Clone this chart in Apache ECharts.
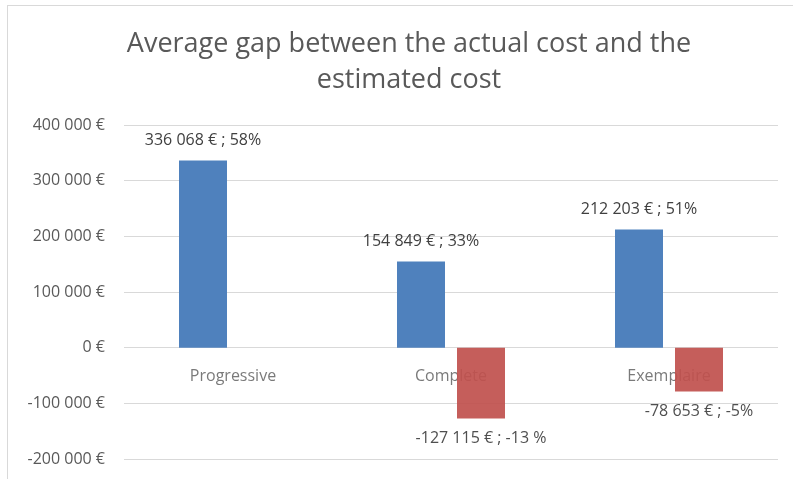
<!DOCTYPE html>
<html>
<head>
<meta charset="utf-8">
<script src="https://cdn.jsdelivr.net/npm/echarts@6/dist/echarts.min.js"></script>
<style>html,body{margin:0;padding:0;background:#fff}#c{width:793px;height:479px}</style>
</head>
<body>
<div id="c"></div>
<script>
const titleText = 'Average gap between the actual cost and the\nestimated cost';
const categories = ['Progressive', 'Complete', 'Exemplaire'];
const overValues = [336068, 154849, 212203];
const underValues = [null, -127115, -78653];
const overPct = ['58%', '33%', '51%'];
const underPct = ['', '-13 %', '-5%'];
const yTicks = { min: -200000, max: 400000, interval: 100000 };

function fmt(v) {
  const s = Math.abs(v).toString().replace(/\B(?=(\d{3})+(?!\d))/g, ' ');
  return (v < 0 ? '-' : '') + s + ' €';
}

const font = '"Open Sans", "Noto Sans", sans-serif';
const fs = 16;
const chart = echarts.init(document.getElementById('c'));
chart.setOption({
  animation: false,
  backgroundColor: '#fff',
  title: {
    text: titleText,
    left: 404,
    textAlign: 'center',
    top: 21,
    textStyle: { fontFamily: font, fontSize: 27, fontWeight: 'normal', color: '#595959', lineHeight: 36 }
  },
  graphic: [
    { type: 'line', shape: { x1: 7, y1: 5.5, x2: 793, y2: 5.5 }, style: { stroke: '#d9d9d9', lineWidth: 1 } },
    { type: 'line', shape: { x1: 7.5, y1: 5, x2: 7.5, y2: 479 }, style: { stroke: '#d9d9d9', lineWidth: 1 } }
  ],
  grid: { left: 124, right: 15, top: 125, bottom: 20, containLabel: false, outerBoundsMode: 'none' },
  xAxis: {
    type: 'category',
    data: categories,
    axisLine: { show: false },
    axisTick: { show: false },
    axisLabel: { show: false }
  },
  yAxis: {
    type: 'value',
    min: yTicks.min, max: yTicks.max, interval: yTicks.interval,
    axisLine: { show: false },
    axisTick: { show: false },
    splitLine: { lineStyle: { color: '#d9d9d9' } },
    axisLabel: { margin: 19, fontFamily: font, fontSize: fs, color: '#595959', formatter: v => fmt(v) }
  },
  series: [
    {
      type: 'scatter',
      data: categories.map(c => [c, 0]),
      symbolSize: 0,
      silent: true,
      z: 1,
      label: {
        show: true, position: 'bottom', distance: 21,
        fontFamily: font, fontSize: fs, color: '#595959',
        formatter: p => p.value[0]
      }
    },
    {
      type: 'bar',
      data: overValues,
      barWidth: 48,
      barGap: '25%',
      itemStyle: { color: '#4f81bd' },
      z: 3,
      label: {
        show: true, position: 'top', distance: 12,
        fontFamily: font, fontSize: fs, color: '#404040',
        formatter: p => fmt(p.value) + ' ; ' + overPct[p.dataIndex]
      }
    },
    {
      type: 'bar',
      data: underValues,
      barWidth: 48,
      barGap: '25%',
      itemStyle: { color: '#c0504d', opacity: 0.92 },
      z: 3,
      label: {
        show: true, position: 'bottom', distance: 12,
        fontFamily: font, fontSize: fs, color: '#404040',
        formatter: p => p.value == null ? '' : fmt(p.value) + ' ; ' + underPct[p.dataIndex]
      }
    }
  ]
});
</script>
</body>
</html>
